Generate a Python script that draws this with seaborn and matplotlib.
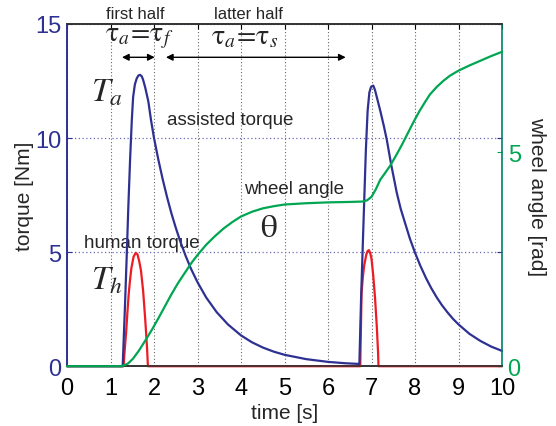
import numpy as np
import pandas as pd
import seaborn as sns
import matplotlib.pyplot as plt

# assisted torque T_a [Nm]
t_assist = [0, 1.28, 1.31, 1.33, 1.37, 1.41, 1.45, 1.49, 1.52, 1.56, 1.60, 1.64, 1.68, 1.72,
            1.75, 1.80, 1.87, 1.93, 2.0, 2.1, 2.2, 2.3, 2.4, 2.5, 2.6, 2.73, 2.85, 3.0, 3.2,
            3.44, 3.7, 4.0, 4.25, 4.5, 4.75, 5.0, 5.5, 6.0, 6.4, 6.72,
            6.76, 6.81, 6.87, 6.91, 6.95, 6.99, 7.04, 7.08, 7.12, 7.2, 7.28, 7.35, 7.45, 7.58,
            7.67, 7.77, 7.88, 8.0, 8.12, 8.25, 8.37, 8.5, 8.62, 8.75, 8.87, 9.0, 9.25, 9.5,
            9.75, 10.0]
assist_torque = [0, 0, 1.5, 2.5, 4.68, 7.0, 9.05, 10.8, 11.8, 12.35, 12.6, 12.74, 12.77, 12.7,
                 12.55, 12.2, 11.6, 10.8, 10.0, 9.05, 8.19, 7.41, 6.7, 6.07, 5.49, 4.82, 4.27, 3.68,
                 3.01, 2.37, 1.83, 1.35, 1.05, 0.82, 0.64, 0.5, 0.31, 0.19, 0.13, 0.1,
                 3.0, 6.0, 9.5, 11.2, 12.0, 12.25, 12.3, 12.1, 11.8, 11.2, 10.55, 9.93, 8.85, 7.6,
                 6.9, 6.28, 5.6, 4.97, 4.41, 3.87, 3.43, 3.01, 2.67, 2.35, 2.08, 1.83, 1.42, 1.11,
                 0.86, 0.67]

# human torque T_h [Nm]
t_human = [0, 1.30, 1.33, 1.36, 1.39, 1.42, 1.45, 1.48, 1.53, 1.58, 1.62, 1.66, 1.70, 1.75,
           1.80, 1.84, 1.86, 6.74, 6.755, 6.77, 6.80, 6.83, 6.88, 6.91, 6.94, 6.97, 7.0, 7.04,
           7.08, 7.12, 7.15, 7.16, 10.0]
human_torque = [0, 0, 0.8, 1.5, 2.4, 3.2, 3.8, 4.3, 4.8, 4.97, 4.9, 4.6, 4.2, 3.3,
                2.0, 0.8, 0, 0, 1.6, 3.2, 3.9, 4.4, 4.9, 5.05, 5.09, 4.95, 4.7, 3.95,
                3.0, 1.76, 0.6, 0, 0]

# wheel angle theta [rad]
t_angle = [0, 1.26, 1.4, 1.52, 1.65, 1.8, 1.95, 2.1, 2.25, 2.4, 2.55, 2.7, 2.85, 3.0, 3.2,
           3.4, 3.6, 3.8, 4.0, 4.25, 4.5, 4.75, 5.0, 5.5, 6.0, 6.5, 6.81, 6.9, 7.0, 7.1, 7.2,
           7.3, 7.43, 7.56, 7.69, 7.82, 7.96, 8.1, 8.22, 8.34, 8.5, 8.65, 8.8, 9.0, 9.25, 9.5,
           9.75, 10.0]
wheel_angle = [0, 0, 0.06, 0.18, 0.36, 0.6, 0.85, 1.12, 1.4, 1.68, 1.94, 2.17, 2.4, 2.6, 2.84,
               3.04, 3.22, 3.37, 3.5, 3.61, 3.69, 3.74, 3.78, 3.81, 3.83, 3.84, 3.85, 3.88, 3.96,
               4.14, 4.36, 4.5, 4.69, 4.92, 5.16, 5.42, 5.70, 5.96, 6.16, 6.35, 6.53, 6.67, 6.79,
               6.91, 7.03, 7.14, 7.25, 7.35]

x_ticks = list(range(0, 11))
torque_ticks = [0, 5, 10, 15]
angle_ticks = [0, 5]

blue = "#2e3192"
red = "#ed1c24"
green = "#00a651"

sns.set_style("white")
plt.rcParams["font.family"] = ["Liberation Sans", "DejaVu Sans"]
plt.rcParams["mathtext.fontset"] = "stix"

fig = plt.figure(figsize=(5.56, 4.27), dpi=100)
ax = fig.add_axes([0.1205, 0.14, 0.7825, 0.8015])
ax2 = ax.twinx()

sns.lineplot(x=t_assist, y=assist_torque, ax=ax, color=blue, lw=1.6, sort=False, zorder=4, clip_on=False)
sns.lineplot(x=t_human, y=human_torque, ax=ax, color=red, lw=1.6, sort=False, zorder=3, clip_on=False)
sns.lineplot(x=t_angle, y=wheel_angle, ax=ax2, color=green, lw=1.6, sort=False, zorder=3, clip_on=False)

ax.set_xlim(0, 10)
ax.set_ylim(0, 15)
ax2.set_ylim(0, 8)
ax.set_xticks(x_ticks)
ax.set_yticks(torque_ticks)
ax2.set_yticks(angle_ticks)

ax.xaxis.grid(True, linestyle=(0, (1, 2)), color="#666666", lw=0.8)
ax.yaxis.grid(True, linestyle=(0, (1, 2)), color="#6a6ab8", lw=0.9)
ax2.grid(False)

ax.tick_params(axis="x", direction="in", top=True, labelsize=17, colors="black", pad=8)
ax.tick_params(axis="y", direction="in", right=True, labelsize=17, colors=blue, pad=4)
ax2.tick_params(axis="y", direction="in", labelsize=17, colors=green, pad=4)

ax.set_xlabel("time [s]", fontsize=15, labelpad=3)
ax.set_ylabel("torque [Nm]", fontsize=15, labelpad=1)
ax2.set_ylabel("wheel angle [rad]", fontsize=15, rotation=270, labelpad=18)

for s in ["top", "bottom"]:
    ax.spines[s].set_color("#333333")
    ax2.spines[s].set_color("#333333")
ax.spines["left"].set_color(blue)
ax2.spines["left"].set_color(blue)
ax2.spines["right"].set_color("#00806b")
ax.spines["right"].set_visible(False)
for a in (ax, ax2):
    for s in a.spines.values():
        s.set_linewidth(1.2)

# annotations
ax.text(1.575, 15.48, "first half", fontsize=12, ha="center", va="center", clip_on=False)
ax.text(4.16, 15.48, "latter half", fontsize=12, ha="center", va="center", clip_on=False)
ax.text(1.66, 14.45, r"$\mathrm{\tau}_{a}\!=\!\mathrm{\tau}_{f}$", fontsize=20, ha="center", va="center")
ax.text(4.08, 14.45, r"$\mathrm{\tau}_{a}\!=\!\mathrm{\tau}_{s}$", fontsize=20, ha="center", va="center")
ax.annotate("", xy=(1.2, 13.54), xytext=(2.08, 13.54),
            arrowprops=dict(arrowstyle="<|-|>", color="black", lw=1, mutation_scale=10))
ax.annotate("", xy=(2.21, 13.54), xytext=(6.47, 13.54),
            arrowprops=dict(arrowstyle="<|-|>", color="black", lw=1, mutation_scale=10))
ax.text(0.92, 12.0, r"$T_a$", fontsize=24, ha="center", va="center")
ax.text(0.92, 3.8, r"$T_h$", fontsize=24, ha="center", va="center")
ax.text(3.75, 10.82, "assisted torque", fontsize=13.5, ha="center", va="center")
ax.text(5.22, 7.78, "wheel angle", fontsize=13.5, ha="center", va="center")
ax.text(4.64, 6.08, r"$\mathrm{\theta}$", fontsize=24, ha="center", va="center")
ax.text(1.72, 5.42, "human torque", fontsize=13.5, ha="center", va="center")

fig.savefig("out.png", dpi=100)
